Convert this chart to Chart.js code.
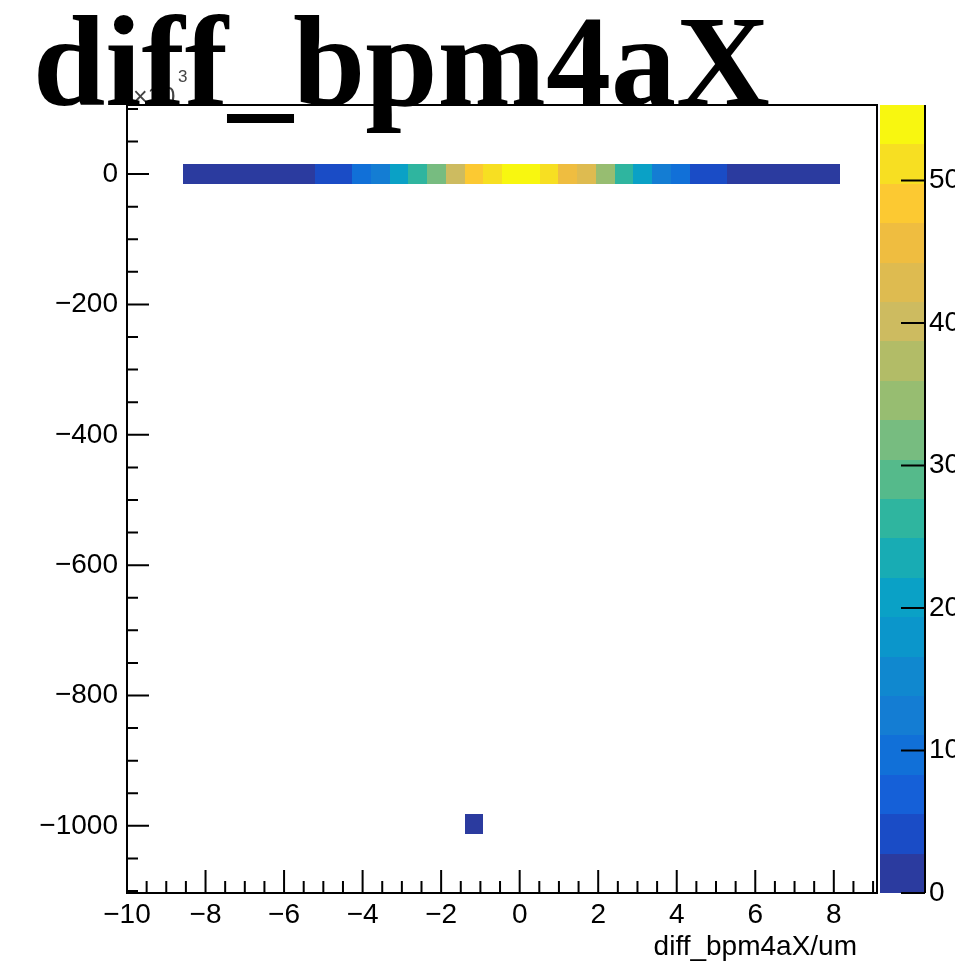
<!DOCTYPE html>
<html>
<head>
    <title>diff_bpm4aX</title>
    <meta charset="utf-8">
    <script src="https://cdn.jsdelivr.net/npm/chart.js"></script>
    <style>
        body {
            margin: 0;
            padding: 0;
            background: #fff;
        }
        #wrap {
            position: relative;
            width: 955px;
            height: 974px;
            overflow: hidden;
        }
        #chart-box {
            position: absolute;
            left: 0;
            top: 0;
            width: 955px;
            height: 974px;
        }
        .mult {
            position: absolute;
            font-family: "Liberation Sans", Arial, sans-serif;
            color: #444;
            white-space: nowrap;
        }
        #title {
            position: absolute;
            left: 33px;
            top: -4px;
            font-family: "Liberation Serif", "Times New Roman", serif;
            font-weight: bold;
            font-size: 130px;
            line-height: 130px;
            white-space: nowrap;
            color: #000;
        }
        #xtitle {
            position: absolute;
            right: 98px;
            top: 930px;
            font-family: "Liberation Sans", Arial, sans-serif;
            font-size: 28px;
            line-height: 32px;
            white-space: nowrap;
            color: #000;
        }
    </style>
</head>
<body>

<div id="wrap">
    <div id="chart-box"><canvas id="th2"></canvas></div>
    <div class="mult" style="left:133px; top:84px; font-size:25px; line-height:25px;">&times;10</div>
    <div class="mult" style="left:178px; top:68px; font-size:17px; line-height:17px;">3</div>
    <div id="title">diff_bpm4aX</div>
    <div id="xtitle">diff_bpm4aX/um</div>
</div>

<script>
// binning of the 2D histogram (y in units of 10^3)
const xRange = [-10, 9.1];
const nBinsX = 40;
const yRange = [-1103, 106];
const nBinsY = 40;

// the filled row around y = 0 : x bins 3..37
const rowBinY = 36;
const rowFirstBinX = 3;
const rowCounts = [1, 1, 2, 2, 2, 1, 2, 4, 5,
                   9, 12, 21, 26, 32, 40, 48, 51, 54, 55, 51, 46, 43, 35, 26, 20, 13, 9,
                   4, 4, 2, 1, 2, 1, 1, 1];

// the single stray cell near y = -1000
const strayBinX = [18];
const strayBinY = [3];
const strayCounts = [1];

// axes
const xTicks = [-10, -8, -6, -4, -2, 0, 2, 4, 6, 8];
const yTicks = [-1000, -800, -600, -400, -200, 0];
const zTicks = [0, 10, 20, 30, 40, 50];
const zMax = 55.3;
const nContours = 20;

// kBird-like contour colours, low -> high
const bandColors = ['#2b3b9f', '#1a4cc6', '#1560d8', '#1170d8', '#147dd3',
                    '#1088cf', '#0b96cb', '#0aa1c6', '#18acb4', '#2fb59f',
                    '#55ba8b', '#77bc80', '#97bd71', '#b2bc67', '#cdbb60',
                    '#debb50', '#efbd40', '#fcc932', '#f7df22', '#f8f710'];

const binW = (xRange[1] - xRange[0]) / nBinsX;
const binH = (yRange[1] - yRange[0]) / nBinsY;

function cellOf(ix, iy, v) {
    return { x: xRange[0] + (ix + 0.5) * binW, y: yRange[0] + (iy + 0.5) * binH, ix: ix, iy: iy, v: v };
}

const cells = [];
rowCounts.forEach((v, i) => cells.push(cellOf(rowFirstBinX + i, rowBinY, v)));
strayCounts.forEach((v, i) => cells.push(cellOf(strayBinX[i], strayBinY[i], v)));

function colorFor(v) {
    let k = Math.floor(v / (zMax / nContours));
    k = Math.max(0, Math.min(nContours - 1, k));
    return bandColors[k];
}

function fmt(v) {
    return v < 0 ? '\u2212' + Math.abs(v) : String(v);
}

const labelFont = { family: 'Liberation Sans', size: 28 };

const th2Plugin = {
    id: 'th2',
    beforeDatasetsDraw(chart) {
        const { ctx, scales: { x, y } } = chart;
        // bin edges in pixels, same rounding for neighbours so no seams
        const ex = i => Math.round(x.getPixelForValue(xRange[0] + i * binW));
        const ey = j => Math.round(y.getPixelForValue(yRange[0] + j * binH));
        ctx.save();
        chart.data.datasets[0].data.forEach(c => {
            const x0 = ex(c.ix), x1 = ex(c.ix + 1);
            const y0 = ey(c.iy + 1), y1 = ey(c.iy);
            ctx.fillStyle = colorFor(c.v);
            ctx.fillRect(x0, y0, x1 - x0, y1 - y0);
        });
        ctx.restore();
    },
    afterDraw(chart) {
        const { ctx, chartArea: a, scales: { x, y, z } } = chart;
        ctx.save();

        // colour palette box
        const pl = a.right + 3, pr = a.right + 48;
        const step = zMax / nContours;
        for (let k = 0; k < nContours; k++) {
            const t = Math.round(z.getPixelForValue((k + 1) * step));
            const b = Math.round(z.getPixelForValue(k * step));
            ctx.fillStyle = bandColors[k];
            ctx.fillRect(pl, t, pr - pl, b - t);
        }
        ctx.strokeStyle = '#000';
        ctx.lineWidth = 2;
        ctx.beginPath();
        ctx.moveTo(pr, a.top);
        ctx.lineTo(pr, a.bottom);
        zTicks.forEach(v => {
            const py = z.getPixelForValue(v);
            ctx.moveTo(pr - 24, py);
            ctx.lineTo(pr, py);
        });
        ctx.stroke();

        // frame
        ctx.strokeRect(a.left, a.top, a.right - a.left, a.bottom - a.top);

        // ticks pointing inward, ROOT style
        ctx.beginPath();
        for (let k = -20; k <= 18; k++) {
            const px = x.getPixelForValue(k * 0.5);
            const len = (k % 4 === 0) ? 23 : 12;
            ctx.moveTo(px, a.bottom);
            ctx.lineTo(px, a.bottom - len);
        }
        for (let k = -22; k <= 2; k++) {
            const py = y.getPixelForValue(k * 50);
            const len = (k % 4 === 0) ? 22 : 11;
            ctx.moveTo(a.left, py);
            ctx.lineTo(a.left + len, py);
        }
        ctx.stroke();
        ctx.restore();
    }
};

const ctx = document.getElementById('th2').getContext('2d');
new Chart(ctx, {
    type: 'scatter',
    data: {
        datasets: [{
            data: cells,
            pointRadius: 0,
            pointHoverRadius: 0
        }]
    },
    options: {
        responsive: true,
        maintainAspectRatio: false,
        animation: false,
        events: [],
        layout: { padding: { top: 105, left: 0, right: 0, bottom: 0 } },
        plugins: {
            legend: { display: false },
            tooltip: { enabled: false },
            title: { display: false }
        },
        scales: {
            x: {
                type: 'linear',
                position: 'bottom',
                min: xRange[0],
                max: xRange[1],
                afterBuildTicks: s => { s.ticks = xTicks.map(v => ({ value: v })); },
                afterFit: s => { s.height = 81; },
                grid: { display: false, drawTicks: false },
                border: { display: false },
                ticks: { padding: 5, color: '#000', font: labelFont, callback: fmt, maxRotation: 0, autoSkip: false }
            },
            y: {
                type: 'linear',
                position: 'left',
                min: yRange[0],
                max: yRange[1],
                afterBuildTicks: s => { s.ticks = yTicks.map(v => ({ value: v })); },
                afterFit: s => { s.width = 127; },
                grid: { display: false, drawTicks: false },
                border: { display: false },
                ticks: { padding: 9, color: '#000', font: labelFont, callback: fmt, autoSkip: false }
            },
            z: {
                type: 'linear',
                axis: 'y',
                position: 'right',
                min: 0,
                max: zMax,
                afterBuildTicks: s => { s.ticks = zTicks.map(v => ({ value: v })); },
                afterFit: s => { s.width = 78; },
                grid: { display: false, drawTicks: false },
                border: { display: false },
                ticks: { padding: 52, color: '#000', font: labelFont, callback: fmt, autoSkip: false }
            }
        }
    },
    plugins: [th2Plugin]
});
</script>

</body>
</html>
